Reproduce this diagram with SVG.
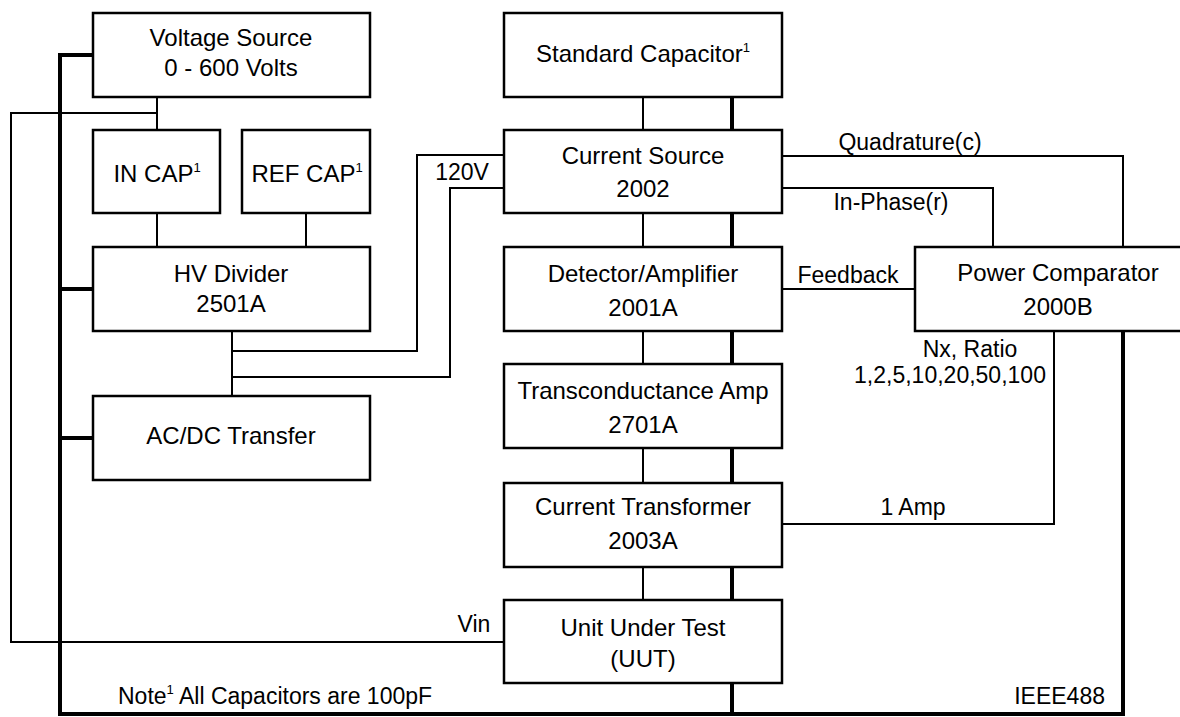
<svg xmlns="http://www.w3.org/2000/svg" width="1180" height="717" viewBox="0 0 1180 717">
<style>
.box{fill:#fff;stroke:#000;stroke-width:2.5}
.thin{fill:none;stroke:#000;stroke-width:2}
.thick{fill:none;stroke:#000;stroke-width:4}
text{font-family:"Liberation Sans",Arial,sans-serif;fill:#000}
.n{font-size:24px;text-anchor:middle}
.l{font-size:23px}
.sup{font-size:13px}
</style>
<rect width="1180" height="717" fill="#fff"/>
<g id="connectors">
<path class="thin" d="M157,97 V130"/>
<path class="thin" d="M157,113 H11 V642 H504"/>
<path class="thin" d="M157,213 V247"/>
<path class="thin" d="M306,213 V247"/>
<path class="thin" d="M232,331 V396"/>
<path class="thin" d="M232,351 H417 V155 H504"/>
<path class="thin" d="M232,377 H450 V188 H504"/>
<path class="thin" d="M643,97 V130 M643,213 V247 M643,331 V364 M643,448 V483 M643,567 V600"/>
<path class="thin" d="M782,156 H1123 V247"/>
<path class="thin" d="M782,188 H993 V247"/>
<path class="thin" d="M782,289 H915"/>
<path class="thin" d="M782,524 H1054 V331"/>
<path class="thick" d="M93,55 H60 V714 H1123 V331"/>
<path class="thick" d="M60,289 H93 M60,438 H93"/>
<path class="thick" d="M732,97 V714"/>
</g>
<g id="labels">
<text class="l" x="462" y="180" text-anchor="middle">120V</text>
<text class="l" x="910" y="150" text-anchor="middle">Quadrature(c)</text>
<text class="l" x="891" y="210" text-anchor="middle">In-Phase(r)</text>
<text class="l" x="848" y="283" text-anchor="middle">Feedback</text>
<text class="l" x="970" y="357" text-anchor="middle">Nx, Ratio</text>
<text class="l" x="950" y="383" text-anchor="middle">1,2,5,10,20,50,100</text>
<text class="l" x="913" y="515" text-anchor="middle">1 Amp</text>
<text class="l" x="474" y="632" text-anchor="middle">Vin</text>
<text class="l" x="118" y="704">Note<tspan class="sup" dy="-10">1</tspan><tspan dy="10"> All Capacitors are 100pF</tspan></text>
<text class="l" x="1105" y="704" text-anchor="end">IEEE488</text>
</g>
<g id="voltage-source">
<rect class="box" x="93" y="13" width="277" height="84"/>
<text class="n" x="231" y="46">Voltage Source</text>
<text class="n" x="231" y="76">0 - 600 Volts</text>
</g>
<g id="in-cap">
<rect class="box" x="93" y="130" width="127" height="83"/>
<text class="n" x="157" y="182">IN CAP<tspan class="sup" dy="-10">1</tspan></text>
</g>
<g id="ref-cap">
<rect class="box" x="242" y="130" width="128" height="83"/>
<text class="n" x="307" y="182">REF CAP<tspan class="sup" dy="-10">1</tspan></text>
</g>
<g id="hv-divider">
<rect class="box" x="93" y="247" width="277" height="84"/>
<text class="n" x="231" y="282">HV Divider</text>
<text class="n" x="231" y="312">2501A</text>
</g>
<g id="acdc-transfer">
<rect class="box" x="93" y="396" width="277" height="84"/>
<text class="n" x="231" y="444">AC/DC Transfer</text>
</g>
<g id="standard-capacitor">
<rect class="box" x="504" y="13" width="278" height="84"/>
<text class="n" x="643" y="62">Standard Capacitor<tspan class="sup" dy="-10">1</tspan></text>
</g>
<g id="current-source">
<rect class="box" x="504" y="130" width="278" height="83"/>
<text class="n" x="643" y="164">Current Source</text>
<text class="n" x="643" y="197">2002</text>
</g>
<g id="detector-amplifier">
<rect class="box" x="504" y="247" width="278" height="84"/>
<text class="n" x="643" y="282">Detector/Amplifier</text>
<text class="n" x="643" y="316">2001A</text>
</g>
<g id="transconductance-amp">
<rect class="box" x="504" y="364" width="278" height="84"/>
<text class="n" x="643" y="399">Transconductance Amp</text>
<text class="n" x="643" y="433">2701A</text>
</g>
<g id="current-transformer">
<rect class="box" x="504" y="483" width="278" height="84"/>
<text class="n" x="643" y="515">Current Transformer</text>
<text class="n" x="643" y="549">2003A</text>
</g>
<g id="unit-under-test">
<rect class="box" x="504" y="600" width="278" height="83"/>
<text class="n" x="643" y="636">Unit Under Test</text>
<text class="n" x="643" y="667">(UUT)</text>
</g>
<g id="power-comparator">
<rect class="box" x="915" y="247" width="280" height="84"/>
<text class="n" x="1058" y="281">Power Comparator</text>
<text class="n" x="1058" y="315">2000B</text>
</g>
</svg>
